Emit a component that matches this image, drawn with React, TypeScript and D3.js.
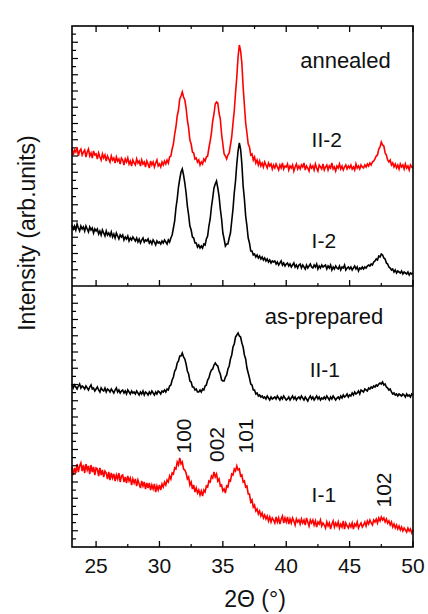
import React from 'react';
import * as d3 from 'd3';

// 2-theta grid of the scans: start and step (degrees)
const THETA_START = 23.1;
const THETA_STEP = 0.1;
const THETA_END = 50;

const xTickValues = [25, 30, 35, 40, 45, 50];
const xMinorTickValues = [27.5, 32.5, 37.5, 42.5, 47.5];

// annealed panel (arb. units, with stacking offset included)
const annealedII2 = [
  138, 131, 136, 134, 139, 130, 135, 137, 131, 134,
  136, 129, 134, 137, 130, 133, 128, 135, 131, 132,
  127, 133, 129, 126, 132, 128, 131, 125, 130, 127,
  124, 130, 126, 128, 123, 129, 125, 127, 122, 128,
  126, 121, 127, 124, 128, 122, 125, 120, 126, 123,
  121, 127, 123, 125, 120, 126, 122, 124, 119, 125,
  122, 118, 125, 121, 124, 119, 123, 126, 120, 122,
  119, 124, 121, 125, 122, 126, 123, 129, 130, 137,
  142, 152, 159, 170, 176, 187, 190, 194, 189, 186,
  178, 166, 158, 146, 142, 134, 133, 127, 128, 124,
  126, 121, 124, 122, 127, 125, 129, 130, 138, 145,
  153, 165, 172, 182, 184, 183, 173, 167, 152, 142,
  132, 130, 127, 131, 133, 141, 149, 163, 175, 193,
  209, 229, 241, 235, 223, 199, 181, 163, 153, 142,
  139, 131, 132, 126, 129, 123, 126, 121, 125, 120,
  123, 119, 124, 121, 118, 123, 120, 122, 117, 121,
  118, 122, 119, 116, 121, 118, 123, 117, 120, 119,
  122, 116, 120, 118, 121, 115, 119, 122, 117, 120,
  117, 121, 119, 123, 116, 120, 118, 115, 121, 118,
  120, 116, 122, 118, 115, 121, 119, 117, 122, 116,
  119, 121, 116, 120, 118, 123, 117, 119, 115, 120,
  118, 122, 117, 120, 116, 119, 121, 117, 120, 118,
  121, 117, 119, 116, 122, 118, 120, 117, 121, 119,
  118, 121, 119, 122, 120, 123, 121, 124, 125, 127,
  130, 131, 137, 139, 144, 141, 140, 133, 131, 126,
  124, 126, 121, 123, 119, 122, 118, 121, 117, 122,
  119, 121, 117, 122, 118, 120, 116, 121, 119, 118,
];

const annealedI2 = [
  61, 57, 60, 56, 62, 58, 55, 60, 57, 59,
  55, 60, 57, 54, 59, 56, 58, 53, 57, 55,
  57, 52, 55, 51, 56, 53, 50, 55, 51, 53,
  50, 54, 49, 52, 48, 53, 50, 47, 51, 49,
  51, 46, 49, 47, 50, 45, 48, 46, 49, 47,
  45, 48, 44, 47, 43, 46, 48, 44, 46, 45,
  47, 43, 45, 42, 46, 44, 41, 45, 43, 44,
  42, 45, 43, 46, 44, 42, 46, 44, 48, 51,
  58, 65, 78, 87, 99, 107, 114, 117, 111, 103,
  93, 80, 71, 60, 56, 49, 48, 43, 43, 39,
  41, 38, 40, 38, 42, 41, 47, 50, 60, 67,
  79, 88, 98, 102, 105, 98, 90, 77, 67, 53,
  47, 40, 42, 42, 48, 53, 65, 77, 93, 105,
  122, 135, 143, 137, 122, 100, 87, 70, 60, 48,
  43, 35, 35, 31, 32, 29, 31, 28, 30, 27,
  29, 26, 28, 25, 27, 24, 26, 23, 25, 24,
  25, 22, 24, 21, 23, 25, 21, 23, 20, 22,
  23, 20, 22, 19, 21, 23, 19, 21, 18, 21,
  22, 18, 21, 19, 17, 21, 18, 20, 22, 19,
  18, 21, 19, 22, 17, 20, 18, 21, 19, 20,
  21, 17, 20, 18, 21, 16, 19, 17, 20, 18,
  17, 20, 16, 19, 18, 21, 16, 18, 19, 17,
  19, 16, 18, 20, 17, 19, 15, 18, 17, 19,
  17, 19, 18, 20, 21, 20, 22, 21, 24, 25,
  27, 26, 30, 29, 32, 31, 28, 27, 23, 22,
  19, 18, 16, 17, 14, 16, 13, 15, 14, 13,
  15, 12, 14, 13, 12, 14, 11, 13, 12, 13,
];

// as-prepared panel
const preparedII1 = [
  163, 159, 162, 160, 158, 161, 163, 159, 161, 160,
  158, 161, 159, 157, 160, 162, 158, 159, 156, 158,
  160, 157, 155, 159, 157, 156, 159, 155, 158, 157,
  155, 158, 156, 154, 157, 159, 155, 157, 154, 156,
  157, 154, 156, 153, 157, 155, 153, 156, 154, 155,
  153, 156, 154, 152, 155, 153, 156, 152, 155, 154,
  152, 155, 153, 156, 154, 152, 155, 153, 156, 155,
  153, 156, 155, 157, 155, 158, 157, 161, 162, 167,
  170, 176, 178, 184, 186, 191, 191, 194, 190, 188,
  183, 176, 173, 166, 165, 160, 160, 157, 158, 155,
  155, 157, 155, 158, 157, 161, 162, 167, 169, 174,
  177, 178, 182, 184, 182, 181, 176, 173, 167, 166,
  166, 170, 172, 178, 181, 188, 192, 200, 203, 210,
  212, 214, 211, 210, 204, 200, 192, 188, 179, 174,
  169, 163, 162, 157, 157, 153, 154, 151, 152, 150,
  151, 149, 150, 148, 151, 149, 147, 150, 148, 149,
  150, 148, 151, 149, 147, 150, 148, 151, 149, 147,
  148, 150, 147, 149, 151, 148, 150, 147, 149, 150,
  148, 151, 149, 147, 150, 148, 146, 149, 151, 148,
  150, 147, 149, 151, 148, 150, 147, 149, 148, 150,
  148, 151, 149, 147, 150, 148, 151, 149, 147, 149,
  150, 148, 151, 149, 152, 150, 151, 153, 150, 152,
  151, 154, 152, 155, 153, 154, 156, 153, 157, 156,
  155, 158, 157, 156, 159, 158, 160, 159, 161, 160,
  162, 161, 163, 164, 163, 165, 162, 163, 160, 159,
  157, 158, 155, 153, 154, 152, 153, 151, 153, 152,
  151, 153, 152, 150, 153, 151, 152, 150, 153, 152,
];

const preparedI1 = [
  80, 72, 79, 74, 83, 75, 81, 84, 76, 82,
  74, 83, 77, 81, 73, 82, 75, 80, 72, 79,
  78, 71, 79, 72, 77, 70, 76, 74, 68, 75,
  67, 74, 69, 73, 66, 72, 68, 74, 65, 71,
  72, 65, 70, 64, 71, 66, 69, 62, 68, 64,
  68, 61, 67, 63, 59, 66, 61, 65, 58, 64,
  59, 64, 57, 62, 58, 63, 55, 61, 57, 62,
  57, 63, 60, 65, 62, 67, 65, 71, 68, 74,
  73, 79, 78, 85, 82, 89, 83, 85, 78, 77,
  74, 68, 70, 62, 65, 58, 62, 55, 59, 54,
  57, 52, 56, 51, 57, 55, 61, 60, 66, 65,
  71, 69, 75, 70, 73, 66, 68, 61, 62, 56,
  58, 54, 61, 60, 67, 66, 73, 72, 78, 76,
  81, 77, 78, 71, 72, 65, 66, 60, 61, 53,
  53, 45, 47, 40, 42, 36, 38, 33, 36, 31,
  34, 29, 32, 28, 31, 26, 30, 25, 29, 27,
  24, 30, 25, 29, 23, 28, 31, 24, 29, 25,
  30, 23, 28, 24, 29, 26, 22, 28, 25, 27,
  23, 28, 24, 27, 22, 29, 25, 21, 27, 24,
  27, 22, 26, 20, 25, 23, 27, 21, 24, 22,
  19, 25, 21, 24, 18, 23, 26, 20, 24, 21,
  25, 19, 23, 20, 26, 18, 24, 21, 19, 23,
  20, 24, 18, 23, 21, 25, 19, 22, 24, 20,
  22, 25, 21, 26, 23, 27, 24, 22, 27, 25,
  28, 24, 29, 26, 30, 27, 29, 25, 28, 24,
  26, 22, 25, 20, 23, 19, 22, 18, 21, 17,
  20, 16, 19, 17, 15, 19, 16, 18, 14, 17,
];

// text annotations (theta, intensity)
const panelTitles = ['annealed', 'as-prepared'];
const panelTitleTheta = [41.1, 38.3];
const panelTitleLevel = [218, 223];

const sampleNames = ['II-2', 'I-2', 'II-1', 'I-1'];
const sampleTheta = [42.0, 42.0, 41.85, 42.0];
const sampleLevel = [139, 38, 170, 45];

const peakNames = ['100', '002', '101', '102'];
const peakTheta = [31.9, 34.46, 36.75, 47.71];
const peakLevel = [111, 102.5, 111, 57];

const FONT = "'Liberation Sans', Arial, Helvetica, sans-serif";

export default function App() {
  const W = 428, H = 614;
  const left = 72, right = 413, top = 26, mid = 286, bottom = 547;
  const x = d3.scaleLinear().domain([THETA_START, THETA_END]).range([left, right]);
  const yTop = d3.scaleLinear().domain([0, 260]).range([mid, top]);
  const yBot = d3.scaleLinear().domain([0, 260]).range([bottom, mid + 1]);

  const mkLine = (y: d3.ScaleLinear<number, number>) =>
    d3.line<number>()
      .x((_, i) => x(THETA_START + i * THETA_STEP))
      .y((d) => y(d));

  const lineTop = mkLine(yTop);
  const lineBot = mkLine(yBot);

  const series = [
    { data: annealedII2, color: '#ff0000', gen: lineTop },
    { data: annealedI2, color: '#000000', gen: lineTop },
    { data: preparedII1, color: '#000000', gen: lineBot },
    { data: preparedI1, color: '#ff0000', gen: lineBot },
  ];

  const yTickIdx = d3.range(1, 32);
  const levelsY = [yTop, yTop, yBot, yBot];

  return (
    <svg width={W} height={H} style={{ position: 'absolute', left: 0, top: 0, background: '#fff' }}>
      <rect x={0} y={0} width={W} height={H} fill="#ffffff" />
      {series.map((s, i) => (
        <path key={i} d={s.gen(s.data) || ''} fill="none" stroke={s.color} strokeWidth={1.6} strokeLinejoin="miter" />
      ))}
      {/* frame */}
      <rect x={left} y={top} width={right - left} height={bottom - top} fill="none" stroke="#000" strokeWidth={1.6} />
      <line x1={left} x2={right} y1={mid} y2={mid} stroke="#000" strokeWidth={1.6} />
      {/* x ticks */}
      {xTickValues.map((v) => (
        <g key={'xt' + v}>
          <line x1={x(v)} x2={x(v)} y1={top} y2={top + 6} stroke="#000" strokeWidth={1.3} />
          <line x1={x(v)} x2={x(v)} y1={mid} y2={mid - 6} stroke="#000" strokeWidth={1.3} />
          <line x1={x(v)} x2={x(v)} y1={bottom} y2={bottom - 6} stroke="#000" strokeWidth={1.3} />
          <text x={x(v)} y={573} textAnchor="middle" fontFamily={FONT} fontSize={21} fill="#111">{v}</text>
        </g>
      ))}
      {xMinorTickValues.map((v) => (
        <g key={'xm' + v}>
          <line x1={x(v)} x2={x(v)} y1={top} y2={top + 3} stroke="#000" strokeWidth={1.2} />
          <line x1={x(v)} x2={x(v)} y1={mid} y2={mid - 3} stroke="#000" strokeWidth={1.2} />
          <line x1={x(v)} x2={x(v)} y1={bottom} y2={bottom - 3} stroke="#000" strokeWidth={1.2} />
        </g>
      ))}
      {/* y ticks (arbitrary units) */}
      {[yTop, yBot].map((ys, p) =>
        yTickIdx.map((i) => {
          const yy = ys((i * 260) / 32);
          return (
            <line key={'yt' + p + '-' + i} x1={left} x2={left + (i % 2 === 0 ? 6 : 4)} y1={yy} y2={yy} stroke="#000" strokeWidth={1.2} />
          );
        })
      )}
      {/* panel titles */}
      {panelTitles.map((t, i) => (
        <text key={t} x={x(panelTitleTheta[i])} y={(i === 0 ? yTop : yBot)(panelTitleLevel[i])} fontFamily={FONT} fontSize={22} fill="#111">{t}</text>
      ))}
      {sampleNames.map((t, i) => (
        <text key={t} x={x(sampleTheta[i])} y={levelsY[i](sampleLevel[i])} fontFamily={FONT} fontSize={21} fill="#111">{t}</text>
      ))}
      {peakNames.map((t, i) => (
        <text key={t} transform={`translate(${x(peakTheta[i])},${yBot(peakLevel[i])}) rotate(-90)`} textAnchor="middle" dominantBaseline="central" fontFamily={FONT} fontSize={21} fill="#111">{t}</text>
      ))}
      {/* axis titles */}
      <text x={255} y={607} textAnchor="middle" fontFamily={FONT} fontSize={23} fill="#111">2Θ (°)</text>
      <text transform="translate(35,233) rotate(-90)" textAnchor="middle" fontFamily={FONT} fontSize={23} fill="#111">Intensity (arb.units)</text>
    </svg>
  );
}
